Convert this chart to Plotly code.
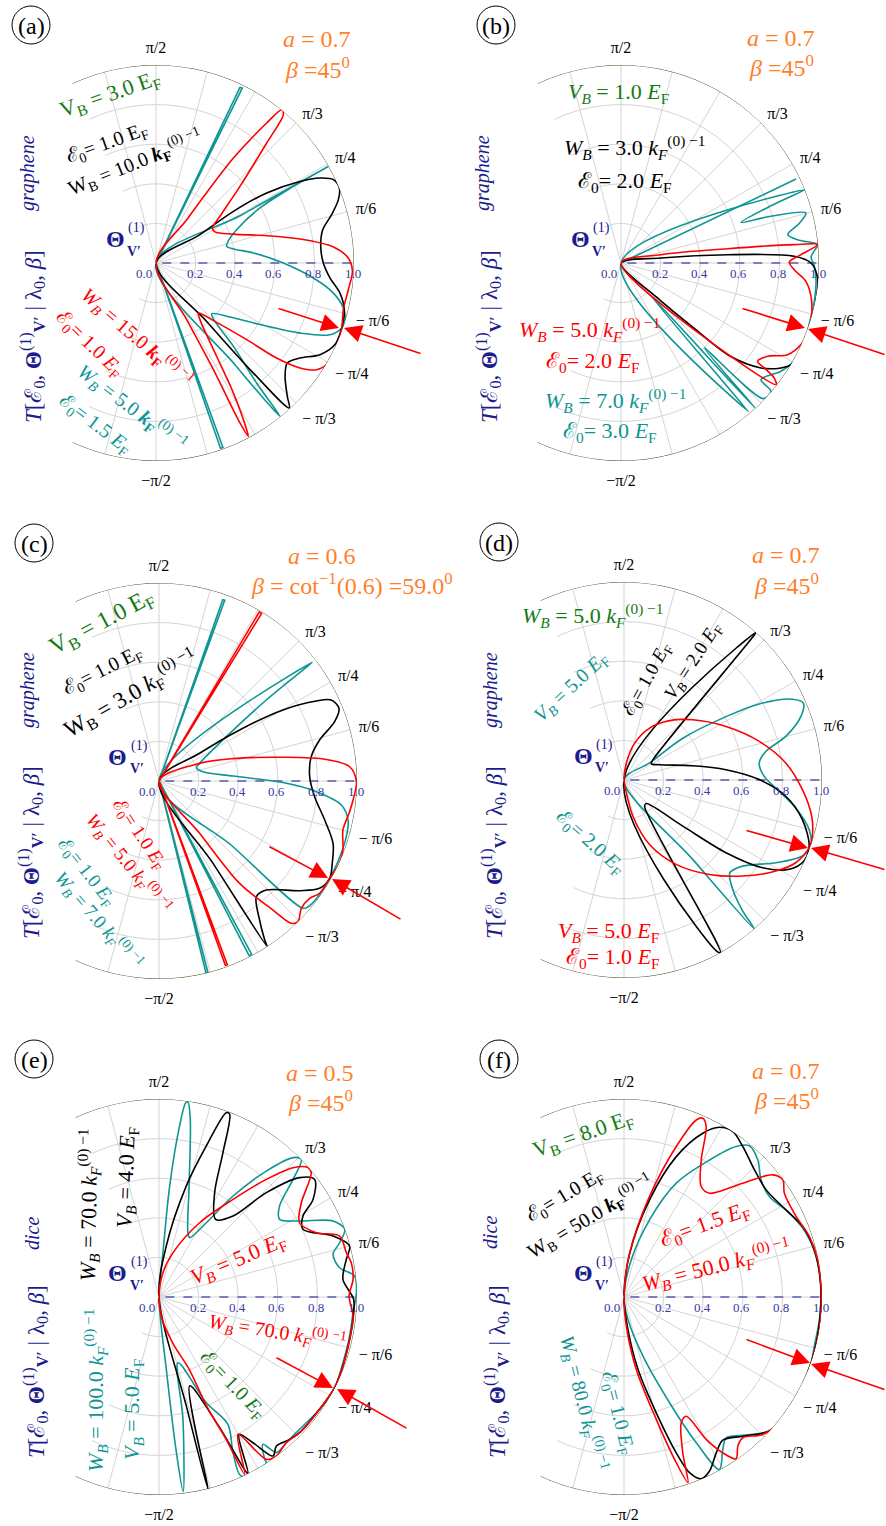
import numpy as np
import plotly.graph_objects as go

W, H = 886, 1526
R_PX = 198
SERIF = "Liberation Serif"

RED = "#ff0000"
TEAL = "#0e9594"
BLACK = "#000000"
GREEN = "#137a13"
ORANGE = "#ff7f2a"
NAVY = "#1c1c8c"
TICKBLUE = "#3a3aa0"

# ---------------- data: each curve is T(theta) given as (T cos(theta), T sin(theta)) pairs
# (read off the radial scale of the picture), drawn in the order of the trace.
A_TEAL = [(0, 0), (0.424, 0.887), (0.436, 0.884), (0, 0), (0.434, 0.244), (0.870, 0.488), (0.694, 0.387),
          (0.525, 0.278), (0.407, 0.168), (0.360, 0.101), (0.357, 0.084), (0.391, 0.071), (0.492, 0.051),
          (0.643, 0.000), (0.795, -0.076), (0.896, -0.152), (0.946, -0.227), (0.955, -0.286), (0.938, -0.328),
          (0.879, -0.362), (0.727, -0.354), (0.525, -0.311), (0.374, -0.273), (0.281, -0.256), (0.298, -0.295),
          (0.391, -0.421), (0.508, -0.606), (0.626, -0.774), (0.400, -0.515), (0, 0), (0.326, -0.936),
          (0.338, -0.932), (0, 0)]
A_BLACK = [(0, 0), (0.222, 0.143), (0.391, 0.261), (0.559, 0.354), (0.727, 0.412), (0.828, 0.429), (0.896, 0.421),
           (0.926, 0.379), (0.921, 0.320), (0.887, 0.244), (0.842, 0.168), (0.832, 0.084), (0.845, 0.000),
           (0.879, -0.076), (0.929, -0.152), (0.951, -0.236), (0.938, -0.328), (0.904, -0.412), (0.828, -0.463),
           (0.727, -0.480), (0.663, -0.505), (0.652, -0.572), (0.663, -0.673), (0.673, -0.732), (0.492, -0.556),
           (0.256, -0.295), (0, 0)]
A_RED = [(0, 0), (0.160, 0.225), (0.391, 0.530), (0.559, 0.707), (0.635, 0.774), (0.643, 0.749), (0.559, 0.606),
         (0.424, 0.387), (0.323, 0.236), (0.285, 0.177), (0.298, 0.157), (0.391, 0.146), (0.559, 0.138),
         (0.727, 0.121), (0.896, 0.081), (0.971, 0.025), (0.992, -0.042), (0.971, -0.135), (0.946, -0.236),
         (0.938, -0.328), (0.912, -0.429), (0.870, -0.505), (0.811, -0.539), (0.727, -0.530), (0.609, -0.480),
         (0.458, -0.387), (0.306, -0.300), (0.214, -0.253), (0.222, -0.286), (0.306, -0.471), (0.391, -0.657),
         (0.458, -0.842), (0.466, -0.875), (0.424, -0.808), (0.290, -0.539), (0.155, -0.286), (0, 0)]

B_TEAL = [(0, 0), (0.884, 0.424), (0, 0), (0.929, 0.370), (0.760, 0.290), (0.606, 0.205), (0.750, 0.235),
          (0.934, 0.253), (0.900, 0.200), (0.842, 0.143), (0.900, 0.115), (0.993, 0.093), (0.975, 0.060),
          (0.960, 0.030), (0.975, -0.010), (0.985, -0.090), (0.975, -0.200), (0.946, -0.328), (0.926, -0.429),
          (0.875, -0.497), (0.808, -0.547), (0.707, -0.589), (0.758, -0.648), (0.720, -0.685), (0.421, -0.429),
          (0.677, -0.732), (0.150, -0.165), (0.643, -0.749), (0, 0)]
B_BLACK = [(0, 0), (0.202, 0.025), (0.539, 0.042), (0.875, 0.034), (0.960, 0.000), (0.993, -0.076),
           (0.985, -0.194), (0.951, -0.337), (0.909, -0.446), (0.859, -0.513), (0.808, -0.530), (0.707, -0.530),
           (0.550, -0.470), (0.370, -0.330), (0.200, -0.190), (0, 0)]
B_RED = [(0, 0), (0.202, 0.042), (0.539, 0.072), (0.875, 0.093), (0.993, 0.093), (0.909, 0.042), (0.850, 0.005),
         (0.875, -0.034), (0.934, -0.093), (0.963, -0.194), (0.951, -0.337), (0.909, -0.412), (0.842, -0.463),
         (0.741, -0.471), (0.690, -0.497), (0.724, -0.530), (0.774, -0.581), (0.783, -0.614), (0, 0)]

C_TEAL = [(0, 0), (0.322, 0.916), (0.332, 0.913), (0, 0), (0.774, 0.599), (0.542, 0.409), (0.340, 0.224),
          (0.205, 0.089), (0.189, 0.067), (0.222, 0.047), (0.374, 0.025), (0.626, -0.008), (0.795, -0.054),
          (0.921, -0.121), (0.955, -0.197), (0.946, -0.281), (0.904, -0.407), (0.862, -0.492), (0.803, -0.584),
          (0.753, -0.635), (0.727, -0.643), (0.374, -0.332), (0, 0), (0.455, -0.882), (0.468, -0.876), (0, 0),
          (0.237, -0.969), (0.247, -0.967), (0, 0)]
C_BLACK = [(0, 0), (0.205, 0.140), (0.407, 0.258), (0.626, 0.359), (0.795, 0.404), (0.870, 0.409), (0.909, 0.367),
           (0.887, 0.300), (0.811, 0.207), (0.769, 0.123), (0.761, 0.022), (0.786, -0.079), (0.837, -0.197),
           (0.879, -0.315), (0.875, -0.416), (0.862, -0.492), (0.811, -0.542), (0.710, -0.554), (0.542, -0.551),
           (0.492, -0.584), (0.508, -0.702), (0.534, -0.803), (0.545, -0.833), (0.273, -0.416), (0, 0)]
C_RED = [(0, 0), (0.506, 0.853), (0.518, 0.846), (0, 0), (0.205, 0.089), (0.374, 0.113), (0.626, 0.120),
         (0.845, 0.109), (0.963, 0.072), (0.997, -0.003), (0.980, -0.096), (0.960, -0.163), (0.929, -0.247),
         (0.929, -0.348), (0.912, -0.416), (0.862, -0.492), (0.811, -0.567), (0.761, -0.593), (0.719, -0.643),
         (0.702, -0.710), (0.668, -0.719), (0.576, -0.652), (0.407, -0.517), (0.205, -0.264), (0, 0),
         (0.335, -0.931), (0.345, -0.928), (0, 0)]

D_TEAL = [(0, 0), (0.129, 0.086), (0.297, 0.211), (0.515, 0.320), (0.683, 0.384), (0.851, 0.408), (0.906, 0.388),
          (0.893, 0.320), (0.817, 0.220), (0.716, 0.144), (0.683, 0.086), (0.708, 0.018), (0.784, -0.057),
          (0.867, -0.141), (0.935, -0.250), (0.943, -0.334), (0.901, -0.384), (0.767, -0.418), (0.599, -0.435),
          (0.535, -0.468), (0.549, -0.552), (0.599, -0.661), (0.658, -0.752), (0.347, -0.401), (0, 0)]
D_BLACK = [(0, 0), (0.666, 0.745), (0.658, 0.732), (0.146, 0.102), (0.138, 0.082), (0.180, 0.077), (0.347, 0.072),
           (0.515, 0.052), (0.683, 0.002), (0.817, -0.082), (0.901, -0.200), (0.935, -0.334), (0.909, -0.409),
           (0.834, -0.451), (0.700, -0.443), (0.515, -0.367), (0.297, -0.233), (0.112, -0.119), (0.104, -0.133),
           (0.487, -0.871), (0.465, -0.862), (0, 0)]
D_RED = [(0, 0), (0.012, 0.086), (0.054, 0.186), (0.129, 0.262), (0.230, 0.300), (0.347, 0.304), (0.515, 0.270),
         (0.683, 0.195), (0.817, 0.086), (0.901, -0.049), (0.948, -0.183), (0.951, -0.284), (0.935, -0.342),
         (0.867, -0.418), (0.767, -0.460), (0.599, -0.485), (0.431, -0.477), (0.263, -0.426), (0.129, -0.326),
         (0.045, -0.183), (0.012, -0.065), (0, 0)]

E_TEAL = [(0, 0), (0.020, 0.224), (0.054, 0.561), (0.104, 0.864), (0.135, 0.981), (0.146, 0.985), (0.158, 0.897),
          (0.152, 0.561), (0.146, 0.325), (0.155, 0.300), (0.239, 0.375), (0.374, 0.510), (0.542, 0.636),
          (0.677, 0.704), (0.719, 0.695), (0.677, 0.594), (0.609, 0.460), (0.609, 0.392), (0.710, 0.384),
          (0.879, 0.384), (0.938, 0.342), (0.912, 0.274), (0.879, 0.215), (0.912, 0.148), (0.988, 0.106),
          (0.997, 0.022), (0.980, -0.079), (0.963, -0.197), (0.929, -0.332), (0.887, -0.458), (0.811, -0.567),
          (0.710, -0.668), (0.643, -0.736), (0.593, -0.786), (0.525, -0.744), (0.534, -0.820), (0.542, -0.838),
          (0.416, -0.905), (0.374, -0.786), (0.348, -0.643), (0.239, -0.534), (0.096, -0.332), (0.121, -0.618),
          (0.122, -0.983), (0.088, -0.786), (0.037, -0.365), (0, 0)]
E_BLACK = [(0, 0), (0.037, 0.258), (0.138, 0.561), (0.239, 0.763), (0.340, 0.931), (0.357, 0.923), (0.323, 0.729),
           (0.281, 0.527), (0.286, 0.392), (0.374, 0.409), (0.542, 0.527), (0.710, 0.603), (0.786, 0.594),
           (0.778, 0.493), (0.727, 0.409), (0.727, 0.342), (0.879, 0.308), (0.963, 0.258), (0.946, 0.190),
           (0.929, 0.089), (0.983, -0.012), (0.980, -0.113), (0.963, -0.214), (0.929, -0.348), (0.887, -0.458),
           (0.811, -0.567), (0.710, -0.685), (0.660, -0.719), (0.593, -0.753), (0.576, -0.803), (0.475, -0.736),
           (0.404, -0.694), (0.449, -0.890), (0.300, -0.650), (0.155, -0.449), (0.247, -0.969), (0.138, -0.550),
           (0, 0)]
E_RED = [(0, 0), (0.020, 0.123), (0.071, 0.224), (0.205, 0.375), (0.374, 0.493), (0.542, 0.594), (0.677, 0.653),
         (0.750, 0.655), (0.769, 0.628), (0.719, 0.476), (0.710, 0.375), (0.795, 0.325), (0.912, 0.308),
         (0.946, 0.224), (0.971, 0.173), (0.980, 0.089), (0.960, 0.005), (0.980, -0.096), (0.963, -0.214),
         (0.929, -0.348), (0.887, -0.458), (0.811, -0.567), (0.719, -0.678), (0.643, -0.736), (0.593, -0.803),
         (0.542, -0.820), (0.399, -0.694), (0.433, -0.895), (0.340, -0.720), (0.240, -0.550), (0.155, -0.370),
         (0.071, -0.235), (0.015, -0.110), (0, 0)]

F_TEAL = [(0, 0), (0.037, 0.188), (0.129, 0.390), (0.264, 0.575), (0.432, 0.692), (0.566, 0.760), (0.634, 0.763),
          (0.676, 0.692), (0.692, 0.592), (0.734, 0.508), (0.835, 0.424), (0.919, 0.323), (0.970, 0.205),
          (0.995, 0.054), (0.987, -0.114), (0.961, -0.249), (0.945, -0.333), (0.894, -0.467), (0.818, -0.602),
          (0.734, -0.677), (0.600, -0.699), (0.516, -0.711), (0.499, -0.770), (0.482, -0.871), (0.365, -0.736),
          (0.230, -0.534), (0.096, -0.299), (0.020, -0.114), (0, 0)]
F_BLACK = [(0, 0), (0.029, 0.222), (0.129, 0.491), (0.264, 0.709), (0.398, 0.827), (0.482, 0.857), (0.550, 0.835),
           (0.600, 0.760), (0.659, 0.642), (0.718, 0.541), (0.818, 0.440), (0.903, 0.356), (0.961, 0.239),
           (0.987, 0.121), (0.995, -0.013), (0.978, -0.198), (0.945, -0.333), (0.886, -0.484), (0.818, -0.602),
           (0.734, -0.677), (0.600, -0.703), (0.499, -0.723), (0.466, -0.787), (0.432, -0.879), (0.390, -0.918),
           (0.331, -0.887), (0.264, -0.787), (0.163, -0.585), (0.071, -0.366), (0.020, -0.165), (0, 0)]
F_RED = [(0, 0), (0.029, 0.222), (0.129, 0.508), (0.264, 0.760), (0.365, 0.894), (0.398, 0.903), (0.415, 0.861),
         (0.390, 0.692), (0.390, 0.558), (0.432, 0.524), (0.600, 0.575), (0.751, 0.617), (0.802, 0.592),
         (0.810, 0.524), (0.869, 0.407), (0.936, 0.306), (0.978, 0.188), (0.995, 0.054), (0.995, -0.081),
         (0.978, -0.215), (0.945, -0.333), (0.886, -0.484), (0.802, -0.618), (0.701, -0.694), (0.600, -0.711),
         (0.575, -0.753), (0.566, -0.817), (0.499, -0.787), (0.415, -0.719), (0.314, -0.602), (0.289, -0.635),
         (0.297, -0.787), (0.323, -0.938), (0.264, -0.837), (0.163, -0.618), (0.062, -0.366), (0.012, -0.148),
         (0, 0)]

RADIAL_TICKS = [0.0, 0.2, 0.4, 0.6, 0.8, 1.0]
RADIAL_TEXT = ["0.0", "0.2", "0.4", "0.6", "0.8", "1.0"]
ANG_TICKS = [-105, -90, -75, -60, -45, -30, -15, 0, 15, 30, 45, 60, 75, 90, 105]
ANG_TEXT = ["", "−π/2", "", "", "− π/3", "− π/4", "− π/6", "", "π/6", "π/4", "π/3", "", "", "π/2", ""]

# ---------------- layout of the six panels (pixel centres of the polar origins)
PANELS = [
    ("a", (156, 263), [(TEAL, A_TEAL), (BLACK, A_BLACK), (RED, A_RED)]),
    ("b", (621, 263), [(TEAL, B_TEAL), (BLACK, B_BLACK), (RED, B_RED)]),
    ("c", (159, 781), [(TEAL, C_TEAL), (BLACK, C_BLACK), (RED, C_RED)]),
    ("d", (624, 780), [(TEAL, D_TEAL), (BLACK, D_BLACK), (RED, D_RED)]),
    ("e", (159, 1297), [(TEAL, E_TEAL), (BLACK, E_BLACK), (RED, E_RED)]),
    ("f", (624, 1297), [(TEAL, F_TEAL), (BLACK, F_BLACK), (RED, F_RED)]),
]
SECTOR = [-115, 115]
XL = np.cos(np.radians(SECTOR[1]))  # left clip (about -0.4226)


def to_polar(pts):
    a = np.array(pts, dtype=float)
    r = np.hypot(a[:, 0], a[:, 1])
    th = np.degrees(np.arctan2(a[:, 1], a[:, 0]))
    return r, th


def segments(pts):
    """split a curve at its returns to the origin"""
    segs, cur = [], [pts[0]]
    for p in pts[1:]:
        cur.append(p)
        if p == (0, 0):
            segs.append(cur)
            cur = [p]
    if len(cur) > 1:
        segs.append(cur)
    return segs


def left_grid():
    th, r = [], []
    for rr in (0.2, 0.4, 0.6, 0.8):
        if rr <= -XL:
            t = np.linspace(SECTOR[1], 360 + SECTOR[0], 80)
            th += list(t) + [None]
            r += [rr] * len(t) + [None]
        else:
            tmax = np.degrees(np.arccos(XL / rr))
            for a0, a1 in ((SECTOR[1], tmax), (360 - tmax, 360 + SECTOR[0])):
                t = np.linspace(a0, a1, 20)
                th += list(t) + [None]
                r += [rr] * len(t) + [None]
    for ang in range(120, 241, 15):
        rm = min(1.0, XL / np.cos(np.radians(ang)))
        th += [ang, ang, None]
        r += [0, rm, None]
    return r, th


fig = go.Figure()
layout_polars = {}
gr, gth = left_grid()
arc_t = np.linspace(SECTOR[0], SECTOR[1], 200)

for i, (key, (cx, cy), curves) in enumerate(PANELS):
    sp = "polar" if i == 0 else f"polar{i + 1}"
    x0 = (cx + XL * R_PX) / W
    x1 = (cx + R_PX) / W
    y0 = 1 - (cy + R_PX) / H
    y1 = 1 - (cy - R_PX) / H
    layout_polars[sp] = dict(
        domain=dict(x=[x0, x1], y=[y0, y1]),
        sector=SECTOR,
        bgcolor="white",
        angularaxis=dict(rotation=0, direction="counterclockwise", tickmode="array",
                         tickvals=ANG_TICKS, ticktext=ANG_TEXT, showline=False,
                         gridcolor="#d4d4d4", gridwidth=0.8, ticks="outside", ticklen=5,
                         tickcolor="rgba(0,0,0,0)",
                         tickfont=dict(family=SERIF, size=16, color="black")),
        radialaxis=dict(range=[0, 1], tickmode="array", tickvals=RADIAL_TICKS, ticktext=RADIAL_TEXT,
                        angle=0, side="clockwise", showline=False, gridcolor="#d4d4d4", gridwidth=0.8,
                        ticks="", showticklabels=False),
    )
    # grid continuation on the left (outside the sector)
    fig.add_trace(go.Scatterpolar(r=gr, theta=gth, mode="lines", subplot=sp, cliponaxis=False,
                                  line=dict(color="#d4d4d4", width=0.8), hoverinfo="skip", showlegend=False))
    # outer boundary arc
    fig.add_trace(go.Scatterpolar(r=np.ones_like(arc_t), theta=arc_t, mode="lines", subplot=sp,
                                  cliponaxis=False, line=dict(color="#4a4a1a", width=1),
                                  hoverinfo="skip", showlegend=False))
    # dashed horizontal axis
    fig.add_trace(go.Scatterpolar(r=[-XL, 0, 1.0], theta=[180, 180, 0], mode="lines", subplot=sp,
                                  cliponaxis=False, line=dict(color="#5a5ab4", width=1.3, dash="dash"),
                                  hoverinfo="skip", showlegend=False))
    if key in "cdef":
        fig.add_trace(go.Scatterpolar(r=[0, 0.1], theta=[135, 135], mode="lines", subplot=sp,
                                      cliponaxis=False, line=dict(color="black", width=1),
                                      hoverinfo="skip", showlegend=False))
    for color, pts in curves:
        for seg in segments(pts):
            r, th = to_polar(seg)
            shape = "linear" if len(seg) <= 4 else "spline"
            fig.add_trace(go.Scatterpolar(r=r, theta=th, mode="lines", subplot=sp,
                                          line=dict(color=color, width=1.6, shape=shape, smoothing=0.9),
                                          hoverinfo="skip", showlegend=False))

# ---------------- texts
EF = "<i>E</i><sub>F</sub>"
EFr = "E<sub>F</sub>"
E0 = "ℰ<sub>0</sub>"
KFb = "<b><i>k</i></b><sub><b>F</b></sub><sup>(0) −1</sup>"
KF = "<i>k</i><sub><i>F</i></sub><sup>(0) −1</sup>"
VB = "<i>V</i><sub><i>B</i></sub>"
VBr = "V<sub>B</sub>"
WB = "<i>W</i><sub><i>B</i></sub>"
WBr = "W<sub>B</sub>"
YLAB = "<i>T</i>[ℰ<sub>0</sub>, <b>Θ</b><sup>(1)</sup><sub><b>V′</b></sub> | λ<sub>0</sub>, <i>β</i>]"

S1, S2, S3 = 24, 22, 20  # orange header, big labels, smaller labels
TEXTS = [
    # panel a
    ("<i>a</i> = 0.7", 317, 39, S1, ORANGE, 0), ("<i>β</i> =45<sup>0</sup>", 317, 68, S1, ORANGE, 0),
    (f"{VBr} = 3.0 {EFr}", 110, 95, S2, GREEN, -19), (f"{E0}= 1.0 {EFr}", 107, 143, S3, BLACK, -20),
    (f"{WBr} = 10.0 {KFb}", 135, 163, S3, BLACK, -22), ("<i>graphene</i>", 28, 173, 20, NAVY, -90),
    (f"{WB} = 15.0 {KFb}", 137, 338, S3, RED, 41), (f"{E0}= 1.0 {EF}", 90, 344, S3, RED, 44),
    (f"{WB} = 5.0 {KFb}", 132, 408, S3, TEAL, 37), (f"{E0}= 1.5 {EF}", 95, 425, S3, TEAL, 37),
    (YLAB, 32, 337, 23, NAVY, -90),
    # panel b
    ("<i>a</i> = 0.7", 781, 38, S1, ORANGE, 0), ("<i>β</i> =45<sup>0</sup>", 781, 66, S1, ORANGE, 0),
    (f"{VB} = 1.0 {EF}", 618, 93, S2, GREEN, 0), (f"{WB} = 3.0 {KF}", 635, 148, S2, BLACK, 0),
    (f"{E0}= 2.0 {EF}", 625, 182, S2, BLACK, 0), ("<i>graphene</i>", 483, 173, 20, NAVY, -90),
    (f"{WB} = 5.0 {KF}", 590, 330, S2, RED, 0), (f"{E0}= 2.0 {EF}", 593, 362, S2, RED, 0),
    (f"{WB} = 7.0 {KF}", 616, 400, S2, TEAL, 0), (f"{E0}= 3.0 {EF}", 610, 432, S2, TEAL, 0),
    (YLAB, 488, 337, 23, NAVY, -90),
    # panel c
    ("<i>a</i> = 0.6", 322, 556, S1, ORANGE, 0),
    ("<i>β</i> = cot<sup>−1</sup>(0.6) =59.0<sup>0</sup>", 352, 584, S1, ORANGE, 0),
    (f"{VBr} = 1.0 {EFr}", 102, 623, 24, GREEN, -28), (f"{E0}= 1.0 {EFr}", 103, 670, S3, BLACK, -27),
    (f"{WBr} = 3.0 <i>k</i><sub>F</sub><sup>(0) −1</sup>", 130, 693, 23, BLACK, -30),
    ("<i>graphene</i>", 27, 690, 20, NAVY, -90),
    (f"{WB} = 5.0 {KF}", 129, 863, 19, RED, 51), (f"{E0}= 1.0 {EF}", 139, 834, 19, RED, 56),
    (f"{E0}= 1.0 {EF}", 86, 872, 19, TEAL, 52), (f"{WB} = 7.0 {KF}", 99, 920, 19, TEAL, 49),
    (YLAB, 30, 853, 23, NAVY, -90),
    # panel d
    ("<i>a</i> = 0.7", 786, 555, S1, ORANGE, 0), ("<i>β</i> =45<sup>0</sup>", 786, 584, S1, ORANGE, 0),
    (f"{WB} = 5.0 {KF}", 593, 615, S2, GREEN, 0), (f"{VB} = 5.0 {EF}", 571, 687, S3, TEAL, -43),
    (f"{E0}= 1.0 {EF}", 647, 680, 19, BLACK, -61), (f"{VB} = 2.0 {EF}", 693, 662, 19, BLACK, -57),
    ("<i>graphene</i>", 490, 690, 20, NAVY, -90), (f"{E0}= 2.0 {EF}", 590, 843, S3, TEAL, 42),
    (f"{VB} = 5.0 {EF}", 608, 932, S2, RED, 0), (f"{E0}= 1.0 {EF}", 613, 958, S2, RED, 0),
    (YLAB, 493, 853, 23, NAVY, -90),
    # panel e
    ("<i>a</i> = 0.5", 320, 1073, S1, ORANGE, 0), ("<i>β</i> =45<sup>0</sup>", 320, 1101, S1, ORANGE, 0),
    (f"{WB} = 70.0 {KF}", 88, 1205, S2, BLACK, -89), (f"{VB} = 4.0 {EF}", 127, 1178, S2, BLACK, -88),
    ("<i>dice</i>", 32, 1233, 20, NAVY, -90), (f"{VB} = 5.0 {EF}", 238, 1260, S2, RED, -23),
    (f"{WB} = 70.0 {KF}", 277, 1332, S3, RED, 9), (f"{E0}= 1.0 {EF}", 233, 1385, S3, GREEN, 46),
    (f"{WB} = 100.0 {KF}", 95, 1390, S2, TEAL, -90), (f"{VB} = 5.0 {EF}", 133, 1410, S2, TEAL, -90),
    (YLAB, 35, 1372, 23, NAVY, -90),
    # panel f
    ("<i>a</i> = 0.7", 786, 1071, S1, ORANGE, 0), ("<i>β</i> =45<sup>0</sup>", 786, 1099, S1, ORANGE, 0),
    (f"{VBr} = 8.0 {EFr}", 583, 1135, S2, GREEN, -19), (f"{E0}= 1.0 {EFr}", 565, 1195, S3, BLACK, -31),
    (f"{WBr} = 50.0 {KFb}", 590, 1217, S3, BLACK, -31), ("<i>dice</i>", 490, 1233, 20, NAVY, -90),
    (f"{E0}= 1.5 {EF}", 705, 1225, S2, RED, -20), (f"{WB} = 50.0 {KF}", 716, 1265, S2, RED, -14),
    (f"{WB} = 80.0 {KF}", 583, 1403, S3, TEAL, 76), (f"{E0}= 1.0 {EF}", 618, 1413, S3, TEAL, 76),
    (YLAB, 496, 1372, 23, NAVY, -90),
]

# red arrows: (tip, tail) in pixels
ARROWS = [
    ((339, 328), (277, 308)), ((344, 328), (422, 354)),
    ((805, 328), (741, 308)), ((808, 329), (886, 355)),
    ((328, 878), (268, 846)), ((332, 879), (402, 920)),
    ((808, 848), (745, 830)), ((811, 848), (886, 870)),
    ((333, 1388), (275, 1357)), ((337, 1389), (408, 1429)),
    ((810, 1363), (745, 1339)), ((811, 1364), (886, 1390)),
]

annotations = []
shapes = []


def px_ann(text, px, py, size, color, angle=0):
    return dict(text=text, x=px / W, y=1 - py / H, xref="paper", yref="paper", showarrow=False,
                font=dict(family=SERIF, size=size, color=color), textangle=angle,
                xanchor="center", yanchor="middle")


for t in TEXTS:
    annotations.append(px_ann(*t))

for key, (cx, cy), _ in PANELS:
    # panel letter in a circle
    lx, ly = cx - 125, cy - 238
    shapes.append(dict(type="circle", xref="paper", yref="paper", x0=(lx - 19) / W, x1=(lx + 19) / W,
                       y0=1 - (ly + 19) / H, y1=1 - (ly - 19) / H, line=dict(color="black", width=1)))
    annotations.append(px_ann(f"({key})", lx, ly + 1, 24, BLACK))
    # Theta label
    annotations.append(px_ann("<b>Θ</b>", cx - 41, cy - 24, 24, NAVY))
    annotations.append(px_ann("(1)", cx - 20, cy - 35, 14, NAVY))
    annotations.append(px_ann("<b>V′</b>", cx - 22, cy - 12, 14, NAVY))
    # radial tick labels along the 0 direction
    for rv, rt in zip(RADIAL_TICKS, RADIAL_TEXT):
        off = -12 if rv == 0 else -1
        annotations.append(px_ann(rt, cx + rv * R_PX + off, cy + 10, 13, TICKBLUE))

for (tx, ty), (sx, sy) in ARROWS:
    annotations.append(dict(text="", x=tx / W, y=1 - ty / H, xref="paper", yref="paper", showarrow=True,
                            ax=sx - tx, ay=sy - ty, axref="pixel", ayref="pixel", arrowhead=2,
                            arrowsize=2.2, arrowwidth=1.6, arrowcolor=RED, standoff=0))

fig.update_layout(width=W, height=H, margin=dict(l=0, r=0, t=0, b=0), paper_bgcolor="white",
                  plot_bgcolor="white", showlegend=False, annotations=annotations, shapes=shapes,
                  **layout_polars)
fig.write_html("out.html", config={"displayModeBar": False},
               post_script="document.body.style.margin='0';document.body.style.overflow='hidden';")
